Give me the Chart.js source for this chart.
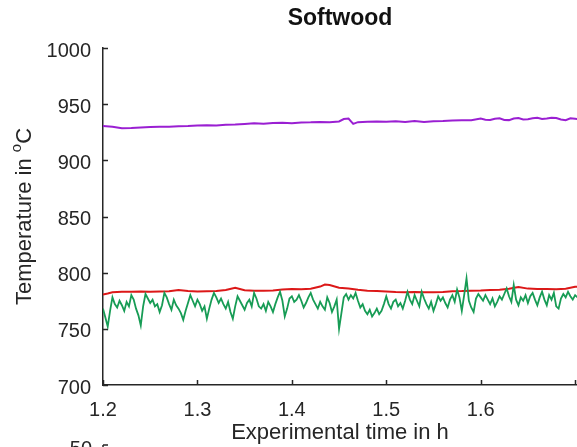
<!DOCTYPE html>
<html>
<head>
<meta charset="utf-8">
<title>Softwood</title>
<script src="https://cdn.jsdelivr.net/npm/chart.js@4/dist/chart.umd.min.js"></script>
<style>
  html, body { margin: 0; padding: 0; background: #ffffff; }
  #chart { display: block; }
</style>
</head>
<body>
<canvas id="chart" width="577" height="447"></canvas>
<script>
// Tick positions
const xTicks = [1.2, 1.3, 1.4, 1.5, 1.6, 1.7];
const yTicks = [700, 750, 800, 850, 900, 950, 1000];

// Upper trace (purple)
const purpleTime = [1.20, 1.21, 1.22, 1.23, 1.24, 1.25, 1.26, 1.27, 1.28, 1.29,
  1.30, 1.31, 1.32, 1.33, 1.34, 1.35, 1.36, 1.37, 1.38, 1.39,
  1.40, 1.41, 1.42, 1.43, 1.44, 1.45, 1.455, 1.46, 1.465, 1.47,
  1.48, 1.49, 1.50, 1.51, 1.52, 1.53, 1.54, 1.55, 1.56, 1.57,
  1.58, 1.59, 1.60, 1.605, 1.61, 1.615, 1.62, 1.625, 1.63, 1.635,
  1.64, 1.645, 1.65, 1.655, 1.66, 1.665, 1.67, 1.675, 1.68, 1.685,
  1.69, 1.695, 1.70, 1.705];
const purpleTemp = [930.6, 929.8, 928.6, 928.8, 929.2, 929.6, 929.8, 930.0, 930.4, 930.6,
  931.0, 931.2, 931.0, 931.6, 931.8, 932.4, 933.0, 932.6, 933.2, 933.4,
  933.0, 933.6, 933.8, 934.2, 934.0, 934.6, 936.8, 937.2, 932.4, 934.0,
  934.4, 934.6, 934.4, 934.8, 934.2, 935.0, 934.2, 934.8, 935.0, 935.4,
  935.6, 935.6, 937.2, 936.2, 936.0, 937.0, 937.4, 936.0, 935.8, 937.2,
  937.6, 936.4, 936.6, 937.4, 937.8, 936.8, 937.2, 938.0, 937.6, 936.4,
  935.8, 937.4, 937.0, 936.6];

// Middle trace (red)
const redTime = [1.20, 1.205, 1.21, 1.22, 1.23, 1.24, 1.25, 1.26, 1.27, 1.28,
  1.29, 1.30, 1.31, 1.32, 1.33, 1.34, 1.35, 1.36, 1.37, 1.38,
  1.39, 1.40, 1.41, 1.42, 1.43, 1.435, 1.44, 1.45, 1.46, 1.47,
  1.48, 1.49, 1.50, 1.51, 1.52, 1.53, 1.54, 1.55, 1.56, 1.57,
  1.58, 1.59, 1.60, 1.61, 1.62, 1.63, 1.64, 1.65, 1.66, 1.67,
  1.68, 1.69, 1.70, 1.705];
const redTemp = [780.5, 781.5, 782.6, 783.0, 783.0, 783.2, 783.0, 783.2, 783.4, 784.6,
  783.6, 783.2, 783.4, 783.6, 784.6, 786.6, 784.4, 784.0, 783.8, 784.2,
  785.0, 785.4, 785.2, 785.6, 787.6, 789.4, 789.0, 786.6, 786.0, 784.8,
  784.0, 783.6, 783.2, 782.8, 782.6, 782.8, 782.6, 782.6, 782.8, 783.4,
  783.6, 784.0, 784.2, 784.6, 784.8, 785.6, 787.2, 785.8, 785.4, 785.4,
  785.2, 785.6, 787.4, 787.8];

// Lower, noisy trace (green)
const greenTime = [
  1.2000, 1.2025, 1.2050, 1.2075, 1.2100, 1.2125, 1.2150, 1.2175, 1.2200, 1.2225,
  1.2250, 1.2275, 1.2300, 1.2325, 1.2350, 1.2375, 1.2400, 1.2425, 1.2450, 1.2475,
  1.2500, 1.2525, 1.2550, 1.2575, 1.2600, 1.2625, 1.2650, 1.2675, 1.2700, 1.2725,
  1.2750, 1.2775, 1.2800, 1.2825, 1.2850, 1.2875, 1.2900, 1.2925, 1.2950, 1.2975,
  1.3000, 1.3025, 1.3050, 1.3075, 1.3100, 1.3125, 1.3150, 1.3175, 1.3200, 1.3225,
  1.3250, 1.3275, 1.3300, 1.3325, 1.3350, 1.3375, 1.3400, 1.3425, 1.3450, 1.3475,
  1.3500, 1.3525, 1.3550, 1.3575, 1.3600, 1.3625, 1.3650, 1.3675, 1.3700, 1.3725,
  1.3750, 1.3775, 1.3800, 1.3825, 1.3850, 1.3875, 1.3900, 1.3925, 1.3950, 1.3975,
  1.4000, 1.4025, 1.4050, 1.4075, 1.4100, 1.4125, 1.4150, 1.4175, 1.4200, 1.4225,
  1.4250, 1.4275, 1.4300, 1.4325, 1.4350, 1.4375, 1.4400, 1.4425, 1.4450, 1.4475,
  1.4500, 1.4525, 1.4550, 1.4575, 1.4600, 1.4625, 1.4650, 1.4675, 1.4700, 1.4725,
  1.4750, 1.4775, 1.4800, 1.4825, 1.4850, 1.4875, 1.4900, 1.4925, 1.4950, 1.4975,
  1.5000, 1.5025, 1.5050, 1.5075, 1.5100, 1.5125, 1.5150, 1.5175, 1.5200, 1.5225,
  1.5250, 1.5275, 1.5300, 1.5325, 1.5350, 1.5375, 1.5400, 1.5425, 1.5450, 1.5475,
  1.5500, 1.5525, 1.5550, 1.5575, 1.5600, 1.5625, 1.5650, 1.5675, 1.5700, 1.5725,
  1.5750, 1.5775, 1.5800, 1.5825, 1.5850, 1.5875, 1.5900, 1.5925, 1.5950, 1.5975,
  1.6000, 1.6025, 1.6050, 1.6075, 1.6100, 1.6125, 1.6150, 1.6175, 1.6200, 1.6225,
  1.6250, 1.6275, 1.6300, 1.6325, 1.6350, 1.6375, 1.6400, 1.6425, 1.6450, 1.6475,
  1.6500, 1.6525, 1.6550, 1.6575, 1.6600, 1.6625, 1.6650, 1.6675, 1.6700, 1.6725,
  1.6750, 1.6775, 1.6800, 1.6825, 1.6850, 1.6875, 1.6900, 1.6925, 1.6950, 1.6975,
  1.7000, 1.7025, 1.7050];
const greenTemp = [
  768, 760, 752, 766, 778, 772, 769, 775, 771, 766,
  774, 770, 780, 776, 768, 762, 753, 770, 781, 777,
  773, 776, 770, 772, 765, 771, 782, 778, 772, 767,
  776, 771, 768, 764, 758, 766, 773, 780, 775, 770,
  776, 772, 766, 770, 759, 768, 776, 782, 778, 773,
  777, 772, 768, 774, 765, 759, 770, 779, 775, 771,
  767, 773, 776, 770, 782, 777, 770, 768, 772, 766,
  774, 770, 765, 772, 778, 783, 775, 761, 768, 777,
  779, 774, 776, 780, 775, 769, 773, 778, 782, 776,
  772, 768, 774, 770, 767, 778, 773, 765, 770, 776,
  750, 764, 778, 781, 776, 780, 777, 782, 775, 769,
  772, 766, 763, 767, 761, 764, 768, 763, 766, 772,
  779, 772, 768, 774, 776, 770, 773, 768, 775, 783,
  776, 772, 780, 775, 770, 783, 777, 772, 768, 774,
  766, 772, 779, 775, 778, 773, 769, 776, 780, 774,
  785, 778, 766, 780, 795, 775, 769, 765, 777, 781,
  778, 775, 780, 776, 772, 777, 770, 774, 779, 776,
  781, 786, 779, 774, 789, 776, 771, 778, 775, 780,
  773, 779, 782, 776, 771, 778, 783, 776, 771, 780,
  776, 782, 770, 768, 777, 781, 778, 783, 779, 776,
  780, 778, 781];

const FONT = '"Liberation Sans", Helvetica, Arial, sans-serif';
const INK = '#262626';

function pairs(xs, ys) {
  return xs.map((x, i) => ({ x: x, y: ys[i] }));
}

// Inward tick marks, rotated y-axis title with superscript, plot title
const decorations = {
  id: 'decorations',
  afterDraw(chart) {
    const ctx = chart.ctx;
    const xs = chart.scales.x;
    const ys = chart.scales.y;
    const area = chart.chartArea;
    const len = 5;
    ctx.save();
    ctx.strokeStyle = INK;
    ctx.lineWidth = 1.5;
    ctx.beginPath();
    xs.ticks.forEach(t => {
      const px = Math.round(xs.getPixelForValue(t.value)) + 0.5;
      ctx.moveTo(px, area.bottom);
      ctx.lineTo(px, area.bottom - len);
    });
    ys.ticks.forEach(t => {
      const py = Math.round(ys.getPixelForValue(t.value)) + 0.5;
      ctx.moveTo(area.left, py);
      ctx.lineTo(area.left + len, py);
    });
    ctx.stroke();

    // y-axis title: "Temperature in °C" with a raised small "o"
    const main = '22px ' + FONT;
    const sup = '15px ' + FONT;
    ctx.fillStyle = INK;
    ctx.font = main;
    const w1 = ctx.measureText('Temperature in ').width;
    const w3 = ctx.measureText('C').width;
    ctx.font = sup;
    const w2 = ctx.measureText('o').width;
    const total = w1 + w2 + w3;
    const cy = (area.top + area.bottom) / 2;
    ctx.translate(31, cy);
    ctx.rotate(-Math.PI / 2);
    ctx.textBaseline = 'alphabetic';
    ctx.textAlign = 'left';
    const x0 = -total / 2;
    ctx.font = main;
    ctx.fillText('Temperature in ', x0, 0);
    ctx.font = sup;
    ctx.fillText('o', x0 + w1, -10);
    ctx.font = main;
    ctx.fillText('C', x0 + w1 + w2, 0);
    ctx.restore();

    // plot title
    ctx.save();
    ctx.fillStyle = '#111111';
    ctx.font = 'bold 23px ' + FONT;
    ctx.textAlign = 'center';
    ctx.textBaseline = 'alphabetic';
    ctx.fillText('Softwood', (area.left + area.right) / 2, 25);

    // top of the next panel below
    ctx.fillStyle = INK;
    ctx.font = '20px ' + FONT;
    ctx.textAlign = 'right';
    ctx.fillText('50', 92, 455);
    ctx.strokeStyle = INK;
    ctx.lineWidth = 1.5;
    ctx.beginPath();
    ctx.moveTo(area.left, 445);
    ctx.lineTo(area.left + len, 445);
    ctx.moveTo(area.left, 445);
    ctx.lineTo(area.left, 448);
    ctx.stroke();
    ctx.restore();
  }
};

new Chart(document.getElementById('chart'), {
  type: 'line',
  data: {
    datasets: [
      { label: 'T1', data: pairs(greenTime, greenTemp), borderColor: '#179c55', borderWidth: 1.8, order: 0 },
      { label: 'T2', data: pairs(redTime, redTemp), borderColor: '#dc1818', order: 1 },
      { label: 'T3', data: pairs(purpleTime, purpleTemp), borderColor: '#9a1fd2', order: 2 }
    ]
  },
  options: {
    responsive: false,
    animation: false,
    devicePixelRatio: 1,
    layout: { padding: { top: 48, left: 0, right: 0, bottom: 0 } },
    elements: {
      point: { radius: 0 },
      line: { borderWidth: 2, tension: 0, fill: false }
    },
    plugins: {
      legend: { display: false },
      tooltip: { enabled: false },
      title: { display: false }
    },
    scales: {
      x: {
        type: 'linear',
        min: 1.2,
        max: 1.702,
        afterBuildTicks(scale) { scale.ticks = xTicks.map(v => ({ value: v })); },
        afterFit(scale) {
          scale.height = 62;
          scale.paddingLeft = 0;
          scale.paddingRight = 0;
        },
        grid: { display: false, drawTicks: false },
        border: { display: true, color: INK, width: 1.5 },
        ticks: {
          padding: 13,
          color: INK,
          maxRotation: 0,
          autoSkip: false,
          font: { family: FONT, size: 20 },
          callback(v) { return v >= 1.7 - 1e-9 ? '' : v.toFixed(1); }
        },
        title: {
          display: true,
          text: 'Experimental time in h',
          color: INK,
          font: { family: FONT, size: 22 },
          padding: { top: 0, bottom: 1 }
        }
      },
      y: {
        type: 'linear',
        min: 700,
        max: 1000,
        afterBuildTicks(scale) { scale.ticks = yTicks.map(v => ({ value: v })); },
        afterFit(scale) {
          scale.width = 103;
          scale.paddingTop = 0;
          scale.paddingBottom = 0;
        },
        grid: { display: false, drawTicks: false },
        border: { display: true, color: INK, width: 1.5 },
        ticks: {
          padding: 12,
          labelOffset: 3,
          color: INK,
          autoSkip: false,
          font: { family: FONT, size: 20 },
          callback(v) { return String(v); }
        }
      }
    }
  },
  plugins: [decorations]
});
</script>
</body>
</html>
